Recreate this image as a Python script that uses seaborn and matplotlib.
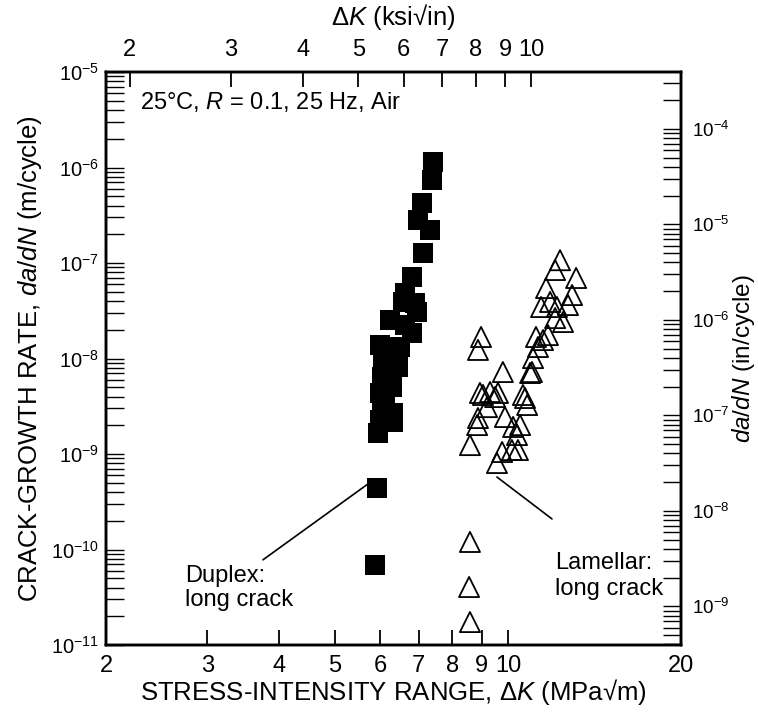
import numpy as np
import pandas as pd
import matplotlib
matplotlib.use("Agg")
import matplotlib.pyplot as plt
import seaborn as sns
from matplotlib.ticker import LogLocator, NullLocator, FuncFormatter, NullFormatter

# ---- data ----
duplex_K = [7.41, 7.38, 7.09, 6.98, 7.32, 7.12, 6.81, 6.62, 6.89, 6.58, 6.95,
            6.24, 6.62, 6.81, 5.99, 6.49, 6.36, 6.06, 6.44, 6.19, 6.04, 6.29,
            5.99, 6.11, 6.04, 6.31, 5.99, 6.31, 5.94, 5.92, 5.87]
duplex_dadn = [1.14e-6, 7.40e-7, 4.25e-7, 2.82e-7, 2.22e-7, 1.27e-7, 7.13e-8,
               4.85e-8, 3.81e-8, 3.90e-8, 3.07e-8, 2.53e-8, 2.24e-8, 1.85e-8,
               1.38e-8, 1.32e-8, 1.09e-8, 9.65e-9, 8.15e-9, 6.72e-9, 6.40e-9,
               5.03e-9, 4.36e-9, 3.68e-9, 3.10e-9, 2.69e-9, 2.27e-9, 2.16e-9,
               1.66e-9, 4.41e-10, 6.88e-11]

lamellar_K = [12.32, 12.08, 13.14, 11.65, 12.93, 11.84, 11.42, 12.17, 12.72,
              12.08, 12.47, 11.19, 11.74, 11.51, 11.28, 11.06, 10.93, 11.01,
              8.98, 8.87, 9.80, 8.94, 9.31, 9.61, 10.62, 9.05, 9.50, 10.71,
              10.80, 9.20, 8.87, 9.88, 8.84, 10.21, 10.50, 10.37, 8.59, 9.77,
              10.16, 10.41, 9.57, 8.59, 8.56, 8.59]
lamellar_dadn = [1.07e-7, 8.45e-8, 6.97e-8, 5.47e-8, 4.62e-8, 3.91e-8, 3.46e-8,
                 3.46e-8, 3.63e-8, 2.65e-8, 2.41e-8, 1.68e-8, 1.76e-8, 1.56e-8,
                 1.32e-8, 1.01e-8, 7.05e-9, 7.22e-9, 1.68e-8, 1.23e-8, 7.22e-9,
                 4.36e-9, 4.46e-9, 4.36e-9, 4.15e-9, 4.15e-9, 3.95e-9, 3.86e-9,
                 3.26e-9, 3.10e-9, 2.38e-9, 2.44e-9, 2.01e-9, 1.92e-9, 2.01e-9,
                 1.58e-9, 1.24e-9, 1.05e-9, 1.10e-9, 1.10e-9, 8.05e-10,
                 1.20e-10, 4.05e-11, 1.74e-11]

mpa_ticks = [2, 3, 4, 5, 6, 7, 8, 9, 10, 20]
ksi_ticks = [2, 3, 4, 5, 6, 7, 8, 9, 10]
KSI_TO_MPA = 1.0988
M_TO_IN = 39.37

# ---- style ----
sns.set_theme(style="white")
plt.rcParams["font.family"] = ["Liberation Sans", "DejaVu Sans"]
plt.rcParams["mathtext.fontset"] = "custom"
plt.rcParams["mathtext.rm"] = "Liberation Sans"
plt.rcParams["mathtext.it"] = "Liberation Sans:italic"
plt.rcParams["mathtext.bf"] = "Liberation Sans:bold"
plt.rcParams["text.color"] = "black"
plt.rcParams["axes.labelcolor"] = "black"
plt.rcParams["xtick.color"] = "black"
plt.rcParams["ytick.color"] = "black"

FS = 17      # annotation / x tick labels
FSY = 14.5   # left y tick labels
FSR = 13.5   # right y tick labels
FSL = 18.5   # axis labels

fig = plt.figure(figsize=(7.58, 7.16), dpi=100)
ax = fig.add_axes([106 / 758, 1 - 645 / 716, 575 / 758, 573 / 716])
ax.set_xscale("log")
ax.set_yscale("log")

df_d = pd.DataFrame({"K": duplex_K, "dadn": duplex_dadn})
df_l = pd.DataFrame({"K": lamellar_K, "dadn": lamellar_dadn})

sns.scatterplot(data=df_d, x="K", y="dadn", marker="s", s=190, color="black",
                linewidth=0, ax=ax, zorder=3)
sns.scatterplot(data=df_l, x="K", y="dadn", marker="^", s=210, color="black",
                edgecolor="black", linewidth=1.3, ax=ax, zorder=3)
tri = ax.collections[-1]
tri.set_facecolor("none")
tri.set_edgecolor("black")

ax.set_xlim(2, 20)
ax.set_ylim(1e-11, 1e-5)

log_fmt = FuncFormatter(lambda v, p: r"$\mathregular{10^{%d}}$" % int(round(np.log10(v))))

# bottom axis
ax.set_xticks(mpa_ticks, labels=[str(t) for t in mpa_ticks])
ax.xaxis.set_minor_locator(NullLocator())
ax.tick_params(axis="x", which="major", direction="in", length=10.5, width=1.3,
               labelsize=FS, pad=7, top=False, bottom=True)
# left axis
ax.yaxis.set_major_locator(LogLocator(base=10, numticks=20))
ax.yaxis.set_minor_locator(LogLocator(base=10, subs=np.arange(2, 10), numticks=100))
ax.yaxis.set_major_formatter(log_fmt)
ax.yaxis.set_minor_formatter(NullFormatter())
ax.tick_params(axis="y", which="both", direction="in", length=13, width=1.0,
               labelsize=FSY, pad=5, left=True, right=False)
ax.set_xlabel(r"STRESS-INTENSITY RANGE, Δ$\it{K}$ (MPa√m)", fontsize=FSL, labelpad=0)
ax.set_ylabel(r"CRACK-GROWTH RATE, $\it{da/dN}$ (m/cycle)", fontsize=FSL)
ax.yaxis.set_label_coords(-0.107, 0.5)

# top axis (ksi sqrt in)
axt = ax.twiny()
axt.set_xscale("log")
axt.set_xlim(2 / KSI_TO_MPA, 20 / KSI_TO_MPA)
axt.set_xticks(ksi_ticks, labels=[str(t) for t in ksi_ticks])
axt.xaxis.set_minor_locator(NullLocator())
axt.tick_params(axis="x", which="major", direction="in", length=10.5, width=1.3,
                labelsize=FS, pad=8)
axt.set_xlabel(r"Δ$\it{K}$ (ksi√in)", fontsize=FSL, labelpad=10)

# right axis (in/cycle)
axr = ax.twinx()
axr.set_yscale("log")
axr.set_ylim(1e-11 * M_TO_IN, 1e-5 * M_TO_IN)
axr.yaxis.set_major_locator(LogLocator(base=10, numticks=20))
axr.yaxis.set_minor_locator(LogLocator(base=10, subs=np.arange(2, 10), numticks=100))
axr.yaxis.set_major_formatter(log_fmt)
axr.yaxis.set_minor_formatter(NullFormatter())
axr.tick_params(axis="y", which="both", direction="in", length=13, width=1.0,
                labelsize=FSR, pad=8)
axr.set_ylabel(r"$\it{da/dN}$ (in/cycle)", fontsize=17.5)
axr.yaxis.set_label_coords(1.086, 0.5)

for a in (ax, axt, axr):
    for sp in a.spines.values():
        sp.set_linewidth(1.7)
        sp.set_color("black")

# annotations
ax.text(0.059, 0.948, r"25°C, $\it{R}$ = 0.1, 25 Hz, Air", transform=ax.transAxes,
        fontsize=FS, va="center", ha="left")
ax.text(0.137, 0.140, "Duplex:\nlong crack", transform=ax.transAxes,
        fontsize=FS, va="top", ha="left", linespacing=1.15)
ax.text(0.781, 0.162, "Lamellar:\nlong crack", transform=ax.transAxes,
        fontsize=FS, va="top", ha="left", linespacing=1.2)
ax.annotate("", xy=(5.80, 5.2e-10), xytext=(3.75, 7.8e-11),
            arrowprops=dict(arrowstyle="-", color="black", lw=1.2,
                            shrinkA=0, shrinkB=0))
ax.annotate("", xy=(9.57, 5.74e-10), xytext=(11.93, 2.09e-10),
            arrowprops=dict(arrowstyle="-", color="black", lw=1.2,
                            shrinkA=0, shrinkB=0))

fig.savefig("out.png", dpi=100)
